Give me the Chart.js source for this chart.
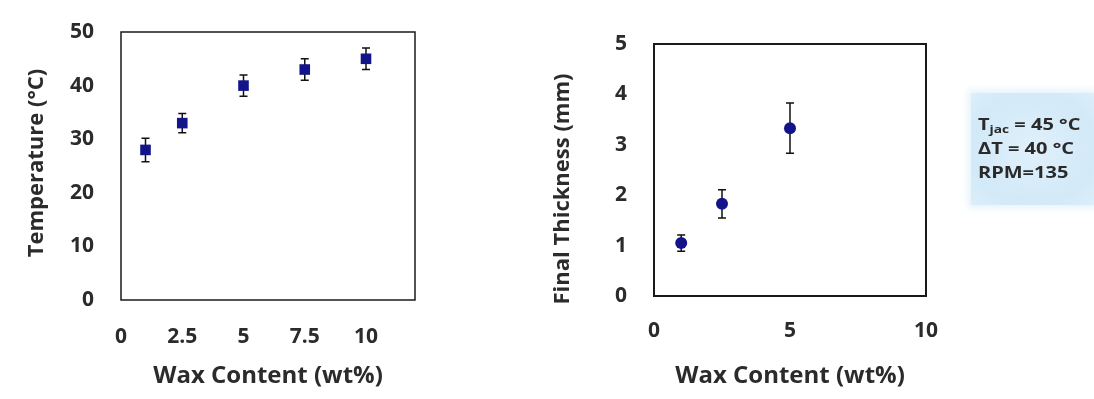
<!DOCTYPE html>
<html>
<head>
<meta charset="utf-8">
<script src="https://cdn.jsdelivr.net/npm/chart.js@4"></script>
<style>
  html, body { margin: 0; padding: 0; background: #fff; }
  body { width: 1094px; height: 399px; position: relative; overflow: hidden; font-family: "Open Sans", sans-serif; }
  .box { position: absolute; }
  #info {
    position: absolute; left: 971px; top: 93px; width: 123px; height: 112px;
    background: radial-gradient(ellipse at center, #e0f0fb 0%, #d2e9f7 70%, #dceffa 100%);
    box-shadow: 0 0 8px 3px #e4f2fb;
    color: #2a2a2a; font-weight: 700; font-size: 16px; line-height: 24px;
    box-sizing: border-box; padding: 19px 0 0 7px;
  }
  #info div { transform: scaleX(1.25); transform-origin: left center; white-space: nowrap; }
  #info sub { font-size: 11px; vertical-align: -3px; line-height: 0; }
</style>
</head>
<body>
<div class="box" style="left:0;top:0;width:450px;height:399px"><canvas id="tempChart"></canvas></div>
<div class="box" style="left:530px;top:0;width:430px;height:399px"><canvas id="thickChart"></canvas></div>
<div id="info">
  <div>T<sub>jac</sub> = 45 °C</div>
  <div>ΔT = 40 °C</div>
  <div>RPM=135</div>
</div>
<script>
"use strict";

// left panel: melt temperature vs wax content
var tempWax = [1, 2.5, 5, 7.5, 10];
var tempValues = [28, 33, 40, 43, 45];
var tempErrors = [2.2, 1.8, 2, 2, 2];
var tempXTicks = [0, 2.5, 5, 7.5, 10];

// right panel: final thickness vs wax content
var thickWax = [1, 2.5, 5];
var thickValues = [1.05, 1.83, 3.33];
var thickErrors = [0.16, 0.28, 0.5];
var thickXTicks = [0, 5, 10];

var TEXT_COLOR = '#2b2b2b';
var MARKER_COLOR = '#14148a';

function toPoints(xs, ys) {
    return xs.map(function(x, i) {
        return {x: x, y: ys[i]};
    });
}

var errorBars = {
    id: 'errorBars',
    beforeDatasetsDraw: function(chart) {
        var ctx = chart.ctx;
        var xs = chart.scales.x, ys = chart.scales.y;
        chart.data.datasets.forEach(function(ds) {
            if (!ds.errors) return;
            ctx.save();
            ctx.strokeStyle = '#111';
            ctx.lineWidth = 1.5;
            ds.data.forEach(function(p, i) {
                var px = xs.getPixelForValue(p.x);
                var top = ys.getPixelForValue(p.y + ds.errors[i]);
                var bot = ys.getPixelForValue(p.y - ds.errors[i]);
                ctx.beginPath();
                ctx.moveTo(px, top); ctx.lineTo(px, bot);
                ctx.moveTo(px - 4, top); ctx.lineTo(px + 4, top);
                ctx.moveTo(px - 4, bot); ctx.lineTo(px + 4, bot);
                ctx.stroke();
            });
            ctx.restore();
        });
    }
};

// plot frame plus the rotated y title (shifted off the axis centre like the original)
var frame = {
    id: 'frame',
    afterDraw: function(chart, args, opts) {
        var a = chart.chartArea;
        var ctx = chart.ctx;
        ctx.save();
        ctx.strokeStyle = '#1a1a1a';
        ctx.lineWidth = opts.width || 1.5;
        ctx.strokeRect(a.left, a.top, a.right - a.left, a.bottom - a.top);

        ctx.translate(opts.titleX, (a.top + a.bottom) / 2 + opts.titleShift);
        ctx.rotate(-Math.PI / 2);
        ctx.fillStyle = TEXT_COLOR;
        ctx.font = 'bold ' + opts.titleSize + 'px "Open Sans"';
        ctx.textAlign = 'center';
        ctx.textBaseline = 'middle';
        ctx.fillText(opts.title, 0, 0);
        ctx.restore();
    }
};

function font(size) {
    return {family: 'Open Sans', size: size, weight: 'bold'};
}

function makeChart(id, o) {
    return new Chart(document.getElementById(id), {
        type: 'scatter',
        data: {
            datasets: [{
                data: toPoints(o.xs, o.ys),
                errors: o.errors,
                pointStyle: o.pointStyle,
                pointRadius: o.radius,
                pointHoverRadius: o.radius,
                backgroundColor: MARKER_COLOR,
                borderColor: MARKER_COLOR,
                borderWidth: 0
            }]
        },
        options: {
            responsive: true,
            maintainAspectRatio: false,
            animation: false,
            events: [],
            layout: {padding: o.padding},
            plugins: {
                legend: {display: false},
                tooltip: {enabled: false},
                frame: {
                    width: o.frameWidth, title: o.yTitle, titleSize: o.yTitleSize,
                    titleX: o.yTitleX, titleShift: o.yTitleShift
                }
            },
            scales: {
                x: {
                    type: 'linear',
                    min: o.xMin, max: o.xMax,
                    afterBuildTicks: function(s) {
                        s.ticks = o.xTicks.map(function(v) { return {value: v}; });
                    },
                    afterFit: function(s) { s.height = o.xHeight; },
                    grid: {display: false, drawTicks: false},
                    border: {display: false},
                    ticks: {color: TEXT_COLOR, padding: o.xTickPad, maxRotation: 0, font: font(21)},
                    title: {display: true, text: 'Wax Content (wt%)', color: TEXT_COLOR, font: font(24)}
                },
                y: {
                    min: o.yMin, max: o.yMax,
                    ticks: {stepSize: o.yStep, color: TEXT_COLOR, padding: o.yTickPad, font: font(21)},
                    afterFit: function(s) {
                        s.width = o.yWidth;
                        // the big tick padding should not push the plot down
                        s.paddingTop = 0;
                        s.paddingBottom = 0;
                    },
                    grid: {display: false, drawTicks: false},
                    border: {display: false}
                }
            }
        },
        plugins: [errorBars, frame]
    });
}

makeChart('tempChart', {
    xs: tempWax, ys: tempValues, errors: tempErrors, xTicks: tempXTicks,
    pointStyle: 'rect', radius: 7.5,
    xMin: 0, xMax: 12, yMin: 0, yMax: 50, yStep: 10,
    yTitle: 'Temperature (°C)', yTitleSize: 22, yTitleX: 37, yTitleShift: -3,
    padding: {left: 20, right: 35, top: 32, bottom: 4},
    yWidth: 101, xHeight: 95, xTickPad: 24, yTickPad: 27, frameWidth: 1.5
});

makeChart('thickChart', {
    xs: thickWax, ys: thickValues, errors: thickErrors, xTicks: thickXTicks,
    pointStyle: 'circle', radius: 6,
    xMin: 0, xMax: 10, yMin: 0, yMax: 5, yStep: 1,
    yTitle: 'Final Thickness (mm)', yTitleSize: 22, yTitleX: 33, yTitleShift: 19,
    padding: {left: 14, right: 34, top: 44, bottom: 4},
    yWidth: 110, xHeight: 99, xTickPad: 22, yTickPad: 27, frameWidth: 2
});
</script>
</body>
</html>
